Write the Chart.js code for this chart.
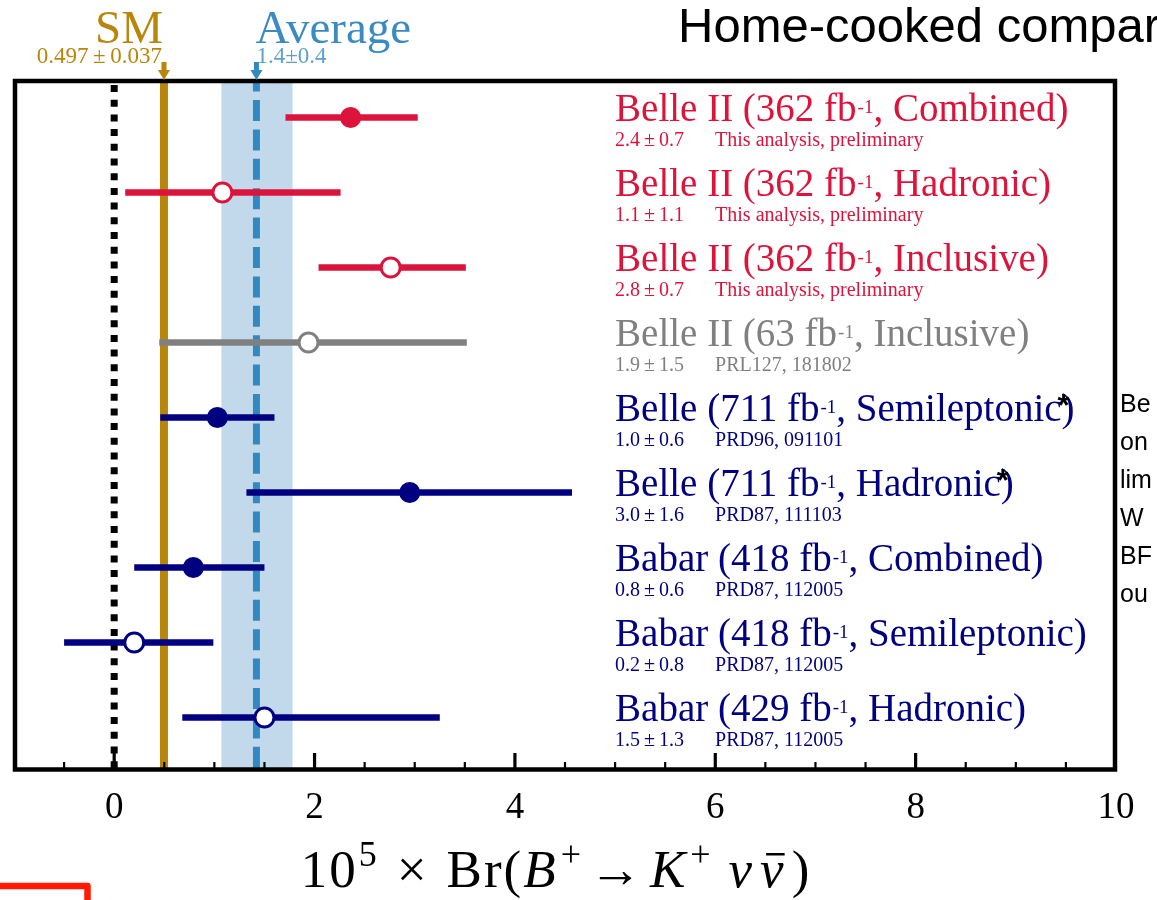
<!DOCTYPE html>
<html>
<head>
<meta charset="utf-8">
<title>B+ -> K+ nu nubar comparison</title>
<script src="https://cdn.jsdelivr.net/npm/chart.js@4.4.1/dist/chart.umd.min.js"></script>
<style>
  html, body { margin: 0; padding: 0; background: #fff; }
  canvas { display: block; }
</style>
</head>
<body>
<canvas id="brChart" width="1157" height="900"></canvas>
<script>
// measurements, top row first
const experiments = ['Belle II', 'Belle II', 'Belle II', 'Belle II', 'Belle', 'Belle', 'Babar', 'Babar', 'Babar'];
const lumis = ['362', '362', '362', '63', '711', '711', '418', '418', '429'];
const methods = ['Combined', 'Hadronic', 'Inclusive', 'Inclusive', 'Semileptonic', 'Hadronic', 'Combined', 'Semileptonic', 'Hadronic'];
const quoted = ['2.4\u2009±\u20090.7', '1.1\u2009±\u20091.1', '2.8\u2009±\u20090.7', '1.9\u2009±\u20091.5', '1.0\u2009±\u20090.6',
                '3.0\u2009±\u20091.6', '0.8\u2009±\u20090.6', '0.2\u2009±\u20090.8', '1.5\u2009±\u20091.3'];
const references = ['This analysis, preliminary', 'This analysis, preliminary', 'This analysis, preliminary',
                    'PRL127, 181802', 'PRD96, 091101', 'PRD87, 111103', 'PRD87, 112005', 'PRD87, 112005', 'PRD87, 112005'];
const centralValues = [2.36, 1.08, 2.76, 1.94, 1.03, 2.95, 0.79, 0.20, 1.50];
const lowerEdges = [1.71, 0.11, 2.04, 0.45, 0.46, 1.32, 0.20, -0.50, 0.68];
const upperEdges = [3.03, 2.26, 3.51, 3.52, 1.60, 4.57, 1.50, 0.99, 3.25];
const filledMarker = [true, false, false, false, true, true, true, false, false];
const starred = [false, false, false, false, true, true, false, false, false];
const rowColors = ['#dc143c', '#dc143c', '#dc143c', '#808080', '#000080', '#000080', '#000080', '#000080', '#000080'];

// reference values
const smValue = 0.497;
const smText = '0.497\u2009±\u20090.037';
const averageValue = 1.42;
const averageLow = 1.07;
const averageHigh = 1.78;
const averageText = '1.4±0.4';

const xTickValues = [0, 2, 4, 6, 8, 10];
const labelAnchor = 5.0;   // x value where the row captions start

const sideLines = ['Be', 'on', 'lim', 'W', 'BF', 'ou'];
const slideTitle = 'Home-cooked compar';

const SERIF = '"Liberation Serif", "Times New Roman", serif';
const SANS = '"Liberation Sans", Arial, sans-serif';
const GOLD = '#b8860b';
const AVG_BLUE = '#3288c0';

const rows = experiments.map((_, i) => i + 1);

const datasets = [];
datasets.push({
    type: 'scatter',
    data: centralValues.map((v, i) => ({x: v, y: rows[i]})),
    pointRadius: filledMarker.map(f => f ? 10.5 : 9.5),
    pointBackgroundColor: filledMarker.map((f, i) => f ? rowColors[i] : '#ffffff'),
    pointBorderColor: rowColors,
    pointBorderWidth: filledMarker.map(f => f ? 0 : 3),
    order: 0
});
rows.forEach((r, i) => {
    datasets.push({
        type: 'line',
        data: [{x: lowerEdges[i], y: r}, {x: upperEdges[i], y: r}],
        borderColor: rowColors[i],
        borderWidth: 6.5,
        borderCapStyle: 'butt',
        pointRadius: 0,
        fill: false,
        order: 1
    });
});
// zero, SM and average vertical lines
datasets.push({
    type: 'line',
    data: [{x: 0, y: 0.5}, {x: 0, y: 9.7}],
    borderColor: '#000000',
    borderWidth: 7,
    borderDash: [7, 7.7],
    borderDashOffset: 9.7,
    borderCapStyle: 'butt',
    pointRadius: 0,
    order: 2
});
datasets.push({
    type: 'line',
    data: [{x: smValue, y: 0.5}, {x: smValue, y: 9.7}],
    borderColor: GOLD,
    borderWidth: 8,
    pointRadius: 0,
    order: 2
});
datasets.push({
    type: 'line',
    data: [{x: averageValue, y: 0.5}, {x: averageValue, y: 9.7}],
    borderColor: AVG_BLUE,
    borderWidth: 7,
    borderDash: [21, 8.4],
    borderDashOffset: 9.4,
    borderCapStyle: 'butt',
    pointRadius: 0,
    order: 2
});

function drawArrow(ctx, px, color) {
    ctx.fillStyle = color;
    ctx.fillRect(px - 2.5, 62, 5, 10);
    ctx.beginPath();
    ctx.moveTo(px - 6, 70);
    ctx.lineTo(px + 6, 70);
    ctx.lineTo(px, 80);
    ctx.closePath();
    ctx.fill();
}

const decorations = {
    id: 'decorations',
    beforeDraw(chart) {
        const ctx = chart.ctx;
        ctx.save();
        ctx.fillStyle = '#ffffff';
        ctx.fillRect(0, 0, chart.width, chart.height);
        ctx.restore();
    },
    beforeDatasetsDraw(chart) {
        const {ctx, chartArea, scales: {x}} = chart;
        const a = x.getPixelForValue(averageLow);
        const b = x.getPixelForValue(averageHigh);
        ctx.save();
        ctx.fillStyle = 'rgba(49,130,189,0.3)';
        ctx.fillRect(a, chartArea.top, b - a, chartArea.bottom - chartArea.top);
        ctx.restore();
    },
    afterDraw(chart) {
        const {ctx, chartArea, scales: {x, y}} = chart;
        ctx.save();

        // inside ticks
        ctx.strokeStyle = '#000';
        for (let v = -0.5; v < 10; v += 0.5) {
            const px = x.getPixelForValue(v);
            const major = xTickValues.includes(v);
            ctx.lineWidth = major ? 3.2 : 2.2;
            ctx.beginPath();
            ctx.moveTo(px, chartArea.bottom);
            ctx.lineTo(px, chartArea.bottom - (major ? 17 : 8));
            ctx.stroke();
        }

        // frame
        ctx.lineWidth = 4.5;
        ctx.strokeRect(chartArea.left + 1, chartArea.top + 1,
                       chartArea.right - chartArea.left - 2, chartArea.bottom - chartArea.top - 1.5);

        // row captions
        ctx.textAlign = 'left';
        ctx.textBaseline = 'alphabetic';
        const left = x.getPixelForValue(labelAnchor);
        rows.forEach((r, i) => {
            const yc = y.getPixelForValue(r);
            ctx.fillStyle = rowColors[i];
            ctx.font = '39px ' + SERIF;
            let cx = left;
            const head = experiments[i] + ' (' + lumis[i] + ' fb';
            ctx.fillText(head, cx, yc + 3);
            cx += ctx.measureText(head).width;
            ctx.font = '19px ' + SERIF;
            ctx.fillText('-1', cx + 1, yc - 5);
            cx += ctx.measureText('-1').width + 1;
            ctx.font = '39px ' + SERIF;
            const tail = ', ' + methods[i];
            ctx.fillText(tail, cx, yc + 3);
            cx += ctx.measureText(tail).width;
            ctx.fillText(')', cx, yc + 3);
            if (starred[i]) {
                ctx.save();
                ctx.fillStyle = '#000';
                ctx.font = 'bold 31px ' + SANS;
                ctx.textAlign = 'center';
                ctx.fillText('*', cx + 2, yc - 2);
                ctx.restore();
            }
            ctx.font = '20px ' + SERIF;
            ctx.fillText(quoted[i], left, yc + 28);
            ctx.fillText(references[i], left + 100, yc + 28);
        });

        // SM and average annotations
        const smPx = x.getPixelForValue(smValue);
        const avPx = x.getPixelForValue(averageValue);
        drawArrow(ctx, smPx, GOLD);
        drawArrow(ctx, avPx, AVG_BLUE);
        ctx.fillStyle = GOLD;
        ctx.textAlign = 'right';
        ctx.font = '47px ' + SERIF;
        ctx.fillText('SM', smPx - 1, 43);
        ctx.font = '23px ' + SERIF;
        ctx.fillText(smText, smPx - 2, 63);
        ctx.fillStyle = '#3b8bc2';
        ctx.textAlign = 'left';
        ctx.font = '47px ' + SERIF;
        ctx.fillText('Average', avPx - 1, 43);
        ctx.fillStyle = '#5c9fd0';
        ctx.font = '23px ' + SERIF;
        ctx.fillText(averageText, avPx, 63);

        // x axis title: 10^5 x Br(B+ -> K+ nu nubar)
        const fs = 53, sup = 36;
        const parts = [
            {t: '10', f: fs + 'px ' + SERIF, dy: 0},
            {t: '5', f: sup + 'px ' + SERIF, dy: -21, gap: 1},
            {t: '×', f: fs + 'px ' + SERIF, dy: 0, gap: 18, after: 18},
            {t: 'Br(', f: fs + 'px ' + SERIF, dy: 0},
            {t: 'B', f: 'italic ' + fs + 'px ' + SERIF, dy: 0},
            {t: '+', f: sup + 'px ' + SERIF, dy: -21, gap: 3},
            {t: '→', f: fs + 'px ' + SERIF, dy: 0, gap: 6, after: 6},
            {t: 'K', f: 'italic ' + fs + 'px ' + SERIF, dy: 0},
            {t: '+', f: sup + 'px ' + SERIF, dy: -21, gap: 3, after: 16},
            {t: 'ν', f: 'italic ' + fs + 'px ' + SERIF, dy: 0},
            {t: 'ν', f: 'italic ' + fs + 'px ' + SERIF, dy: 0, bar: true, gap: 6},
            {t: ')', f: fs + 'px ' + SERIF, dy: 0, gap: 6}
        ];
        ctx.letterSpacing = '2px';
        let total = 0;
        parts.forEach(p => {
            ctx.font = p.f;
            p.w = ctx.measureText(p.t).width;
            total += (p.gap || 0) + p.w + (p.after || 0);
        });
        let tx = 556 - total / 2;
        ctx.fillStyle = '#000';
        ctx.textAlign = 'left';
        parts.forEach(p => {
            tx += p.gap || 0;
            ctx.font = p.f;
            ctx.fillText(p.t, tx, 887 + p.dy);
            if (p.bar) {
                ctx.fillRect(tx + 6, 853, p.w - 7, 2.5);
            }
            tx += p.w + (p.after || 0);
        });
        ctx.letterSpacing = '0px';

        // slide remnants around the plot
        ctx.font = '49px ' + SANS;
        ctx.fillText(slideTitle, 678, 42);
        ctx.font = '25px ' + SANS;
        sideLines.forEach((s, k) => ctx.fillText(s, 1120, 412 + 38 * k));
        ctx.strokeStyle = '#ff1a00';
        ctx.lineWidth = 6.5;
        ctx.lineJoin = 'round';
        ctx.beginPath();
        ctx.moveTo(0, 886);
        ctx.lineTo(87.5, 886);
        ctx.lineTo(87.5, 902);
        ctx.stroke();

        ctx.restore();
    }
};

new Chart(document.getElementById('brChart'), {
    type: 'scatter',
    data: {datasets: datasets},
    options: {
        responsive: false,
        animation: false,
        events: [],
        layout: {padding: {top: 80, left: 14, right: 41, bottom: 0}},
        plugins: {legend: {display: false}, tooltip: {enabled: false}},
        scales: {
            x: {
                type: 'linear',
                min: -1,
                max: 10,
                afterBuildTicks: scale => { scale.ticks = xTickValues.map(v => ({value: v})); },
                afterFit: scale => { scale.height = 130; },
                grid: {display: false, drawTicks: false},
                border: {display: false},
                ticks: {
                    color: '#000',
                    padding: 16,
                    maxRotation: 0,
                    font: {family: SERIF, size: 37}
                }
            },
            y: {
                type: 'linear',
                reverse: true,
                min: 0.5,
                max: 9.7,
                display: false
            }
        }
    },
    plugins: [decorations]
});
</script>
</body>
</html>
